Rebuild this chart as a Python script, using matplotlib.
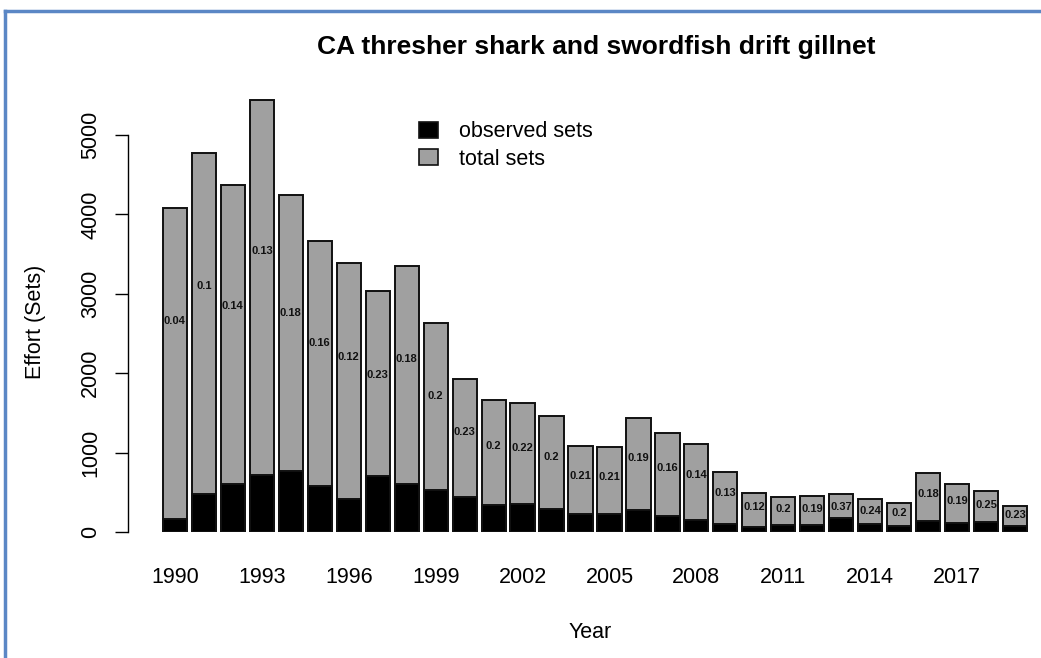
import matplotlib
matplotlib.use("Agg")
import matplotlib.pyplot as plt
from matplotlib.lines import Line2D
from matplotlib.patches import Patch
import numpy as np

plt.rcParams['font.family'] = ['Liberation Sans', 'DejaVu Sans']

years = list(range(1990, 2020))
total_sets = [4080, 4775, 4370, 5440, 4245, 3665, 3390, 3035, 3350, 2632,
              1930, 1662, 1625, 1462, 1083, 1072, 1436, 1247, 1108, 756,
              492, 441, 453, 478, 416, 365, 743, 605, 516, 327]
observed_sets = [170, 475, 610, 715, 762, 585, 410, 700, 600, 528,
                 443, 335, 357, 295, 228, 226, 272, 200, 155, 98,
                 60, 88, 86, 177, 100, 73, 134, 115, 129, 75]
coverage = ["0.04", "0.1", "0.14", "0.13", "0.18", "0.16", "0.12", "0.23", "0.18", "0.2",
            "0.23", "0.2", "0.22", "0.2", "0.21", "0.21", "0.19", "0.16", "0.14", "0.13",
            "0.12", "0.2", "0.19", "0.37", "0.24", "0.2", "0.18", "0.19", "0.25", "0.23"]
label_years = years[::3]

FS = 15.5
W, H = 1041, 658
fig = plt.figure(figsize=(W / 100, H / 100), dpi=100)

# axes placement in pixels
x0_px, x1_px = 158, 1032
y0_px = 532
ymax = 5500
px_per_unit = 79.4 / 1000
ytop_px = y0_px - ymax * px_per_unit
ax = fig.add_axes([x0_px / W, 1 - y0_px / H, (x1_px - x0_px) / W, (y0_px - ytop_px) / H])

pos = 0.7 + 1.2 * np.arange(len(years))
ax.bar(pos, total_sets, width=1.0, color='#a0a0a0', edgecolor='#111111', linewidth=1.4, zorder=2)
ax.bar(pos, observed_sets, width=1.0, color='black', edgecolor='#111111', linewidth=1.4, zorder=3)
for p, t, c in zip(pos, total_sets, coverage):
    ax.text(p, 0.65 * t, c, ha='center', va='center', fontsize=8, fontweight='bold',
            color='#111111', zorder=4)

ax.set_xlim(0, 36.2)
ax.set_ylim(0, ymax)

for s in ['top', 'right', 'bottom']:
    ax.spines[s].set_visible(False)
ax.spines['left'].set_position(('outward', 21.6))
ax.spines['left'].set_bounds(0, 5000)
ax.spines['left'].set_linewidth(1.0)
ax.set_yticks([0, 1000, 2000, 3000, 4000, 5000])
ax.tick_params(axis='y', length=9.4, width=1.0, labelsize=FS, pad=10)
for lab in ax.get_yticklabels():
    lab.set_rotation(90)
    lab.set_va('center')

label_pos = [pos[years.index(y)] for y in label_years]
ax.set_xticks(label_pos)
ax.set_xticklabels([str(y) for y in label_years])
ax.tick_params(axis='x', length=0, labelsize=FS, pad=25)

ax.set_ylabel("Effort (Sets)", fontsize=FS, va='center')
ax.yaxis.set_label_coords((35 - x0_px) / (x1_px - x0_px), (y0_px - 322) / (y0_px - ytop_px))
ax.set_xlabel("Year", fontsize=FS, va='center')
ax.xaxis.set_label_coords((590 - x0_px) / (x1_px - x0_px), -(633 - y0_px) / (y0_px - ytop_px))

fig.text(596 / W, 1 - 47 / H, "CA thresher shark and swordfish drift gillnet",
         ha='center', va='center', fontsize=19, fontweight='bold')

handles = [Patch(facecolor='black', edgecolor='#111111', linewidth=1.2),
           Patch(facecolor='#a0a0a0', edgecolor='#111111', linewidth=1.2)]
fig.legend(handles, ["observed sets", "total sets"], loc='upper left',
           bbox_to_anchor=(400 / W, 1 - 102 / H), frameon=False, fontsize=FS,
           handlelength=0.85, handleheight=0.75, handletextpad=1.0, labelspacing=0.3)

# blue border
fig.add_artist(Line2D([5 / W, 5 / W], [0, 1 - 11 / H], color='#5b87c5', linewidth=2.5,
                      transform=fig.transFigure))
fig.add_artist(Line2D([5 / W, 1], [1 - 11 / H, 1 - 11 / H], color='#5b87c5', linewidth=2.5,
                      transform=fig.transFigure))

fig.savefig("out.png", dpi=100)
